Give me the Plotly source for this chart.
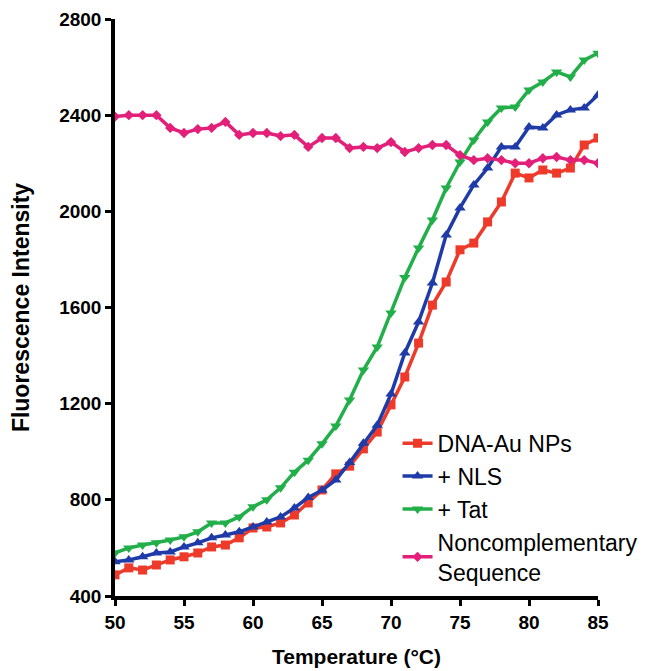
import plotly.graph_objects as go

temperature = list(range(50, 86))

dna_au = [488, 517, 508, 529, 550, 563, 579, 604, 612, 642, 683, 687, 704, 737, 787, 841,
          908, 940, 1012, 1082, 1195, 1311, 1452, 1610, 1706, 1840, 1868, 1956, 2039, 2159,
          2139, 2172, 2159, 2180, 2276, 2305]
nls = [542, 550, 563, 579, 583, 604, 621, 642, 654, 667, 687, 708, 729, 766, 810, 840,
       883, 955, 1035, 1110, 1240, 1411, 1540, 1702, 1902, 2014, 2110, 2180, 2268, 2268,
       2351, 2347, 2401, 2422, 2430, 2484]
tat = [579, 600, 612, 621, 633, 646, 667, 704, 704, 729, 771, 800, 850, 915, 965, 1033,
       1107, 1215, 1340, 1436, 1577, 1725, 1848, 1964, 2097, 2205, 2297, 2372, 2430, 2434,
       2505, 2538, 2580, 2559, 2629, 2658]
noncomp = [2394, 2400, 2400, 2400, 2347, 2326, 2342, 2347, 2372, 2318, 2326, 2326, 2313,
           2318, 2268, 2305, 2305, 2263, 2268, 2263, 2288, 2247, 2263, 2276, 2276, 2234,
           2213, 2221, 2213, 2200, 2200, 2221, 2226, 2213, 2213, 2200]

series_names = ["DNA-Au NPs", "+ NLS", "+ Tat", "Noncomplementary<br>Sequence"]
x_ticks = [50, 55, 60, 65, 70, 75, 80, 85]
y_ticks = [400, 800, 1200, 1600, 2000, 2400, 2800]

FONT = "Liberation Sans, Arial, sans-serif"

fig = go.Figure()
styles = [
    (dna_au, "#EE3A2A", "square", 9),
    (nls, "#1F3BA8", "triangle-up", 10),
    (tat, "#22AF4A", "triangle-down", 10),
    (noncomp, "#E2207A", "diamond", 8),
]
for name, (vals, color, sym, size) in zip(series_names, styles):
    fig.add_trace(go.Scatter(
        x=temperature, y=vals, name=name, mode="lines+markers",
        line=dict(color=color, width=3.5),
        marker=dict(symbol=sym, size=size, color=color),
    ))

fig.update_layout(
    width=652, height=671,
    margin=dict(l=115, r=54, t=19, b=75, autoexpand=False),
    paper_bgcolor="white", plot_bgcolor="white",
    font=dict(family=FONT, color="black"),
    showlegend=True,
    legend=dict(
        x=0.585, y=0.302, xanchor="left", yanchor="top",
        font=dict(size=23, family=FONT, color="black"),
        bgcolor="rgba(0,0,0,0)", itemwidth=30, tracegroupgap=0,
    ),
    xaxis=dict(
        range=[50, 85], tickvals=x_ticks, ticktext=[str(t) for t in x_ticks],
        showgrid=False, zeroline=False, automargin=False,
        showline=True, linecolor="black", linewidth=3.5,
        ticks="outside", ticklen=6, tickwidth=3, tickcolor="black",
        tickfont=dict(size=19, family=FONT, weight="bold"),
        title=dict(text="Temperature (°C)", font=dict(size=21, family=FONT, weight="bold"), standoff=19),
    ),
    yaxis=dict(
        range=[400, 2800], tickvals=y_ticks, ticktext=[str(t) for t in y_ticks],
        showgrid=False, zeroline=False, automargin=False,
        showline=True, linecolor="black", linewidth=3.5,
        ticks="outside", ticklen=6, tickwidth=3, tickcolor="black",
        tickfont=dict(size=19, family=FONT, weight="bold"),
        title=dict(text="Fluorescence Intensity", font=dict(size=23, family=FONT, weight="bold"), standoff=24),
    ),
)

fig.write_html("out.html", config={"displayModeBar": False},
               post_script="document.body.style.margin='0';")
